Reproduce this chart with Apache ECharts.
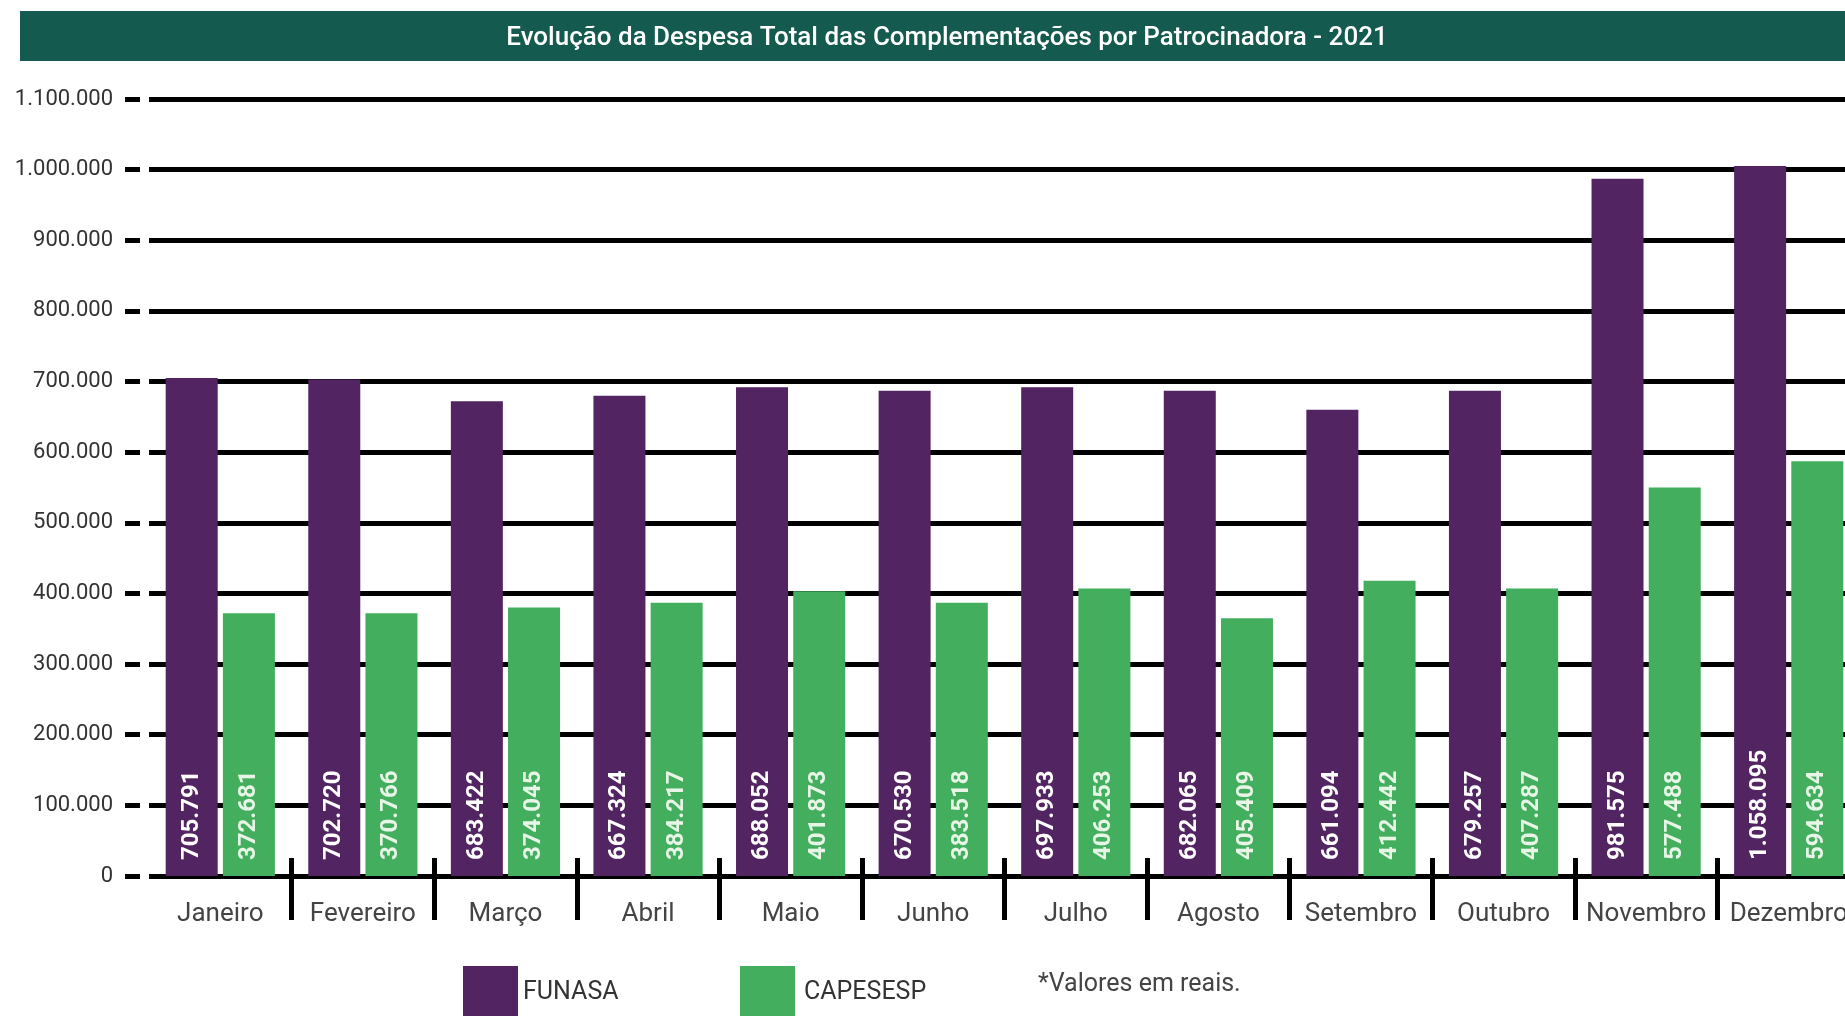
<!DOCTYPE html>
<html>
<head>
<meta charset="utf-8">
<title>Despesa Total das Complementações</title>
<script src="https://cdn.jsdelivr.net/npm/echarts@6/dist/echarts.min.js"></script>
<style>
	html, body { margin: 0; padding: 0; background: #FFFFFF; }
	#Charts { width: 1845px; height: 1016px; }
</style>
</head>
<body>
<div id="Charts"></div>
<script>
// meses (eixo X)
let meses = ['Janeiro', 'Fevereiro', 'Março', 'Abril', 'Maio', 'Junho', 'Julho', 'Agosto', 'Setembro', 'Outubro', 'Novembro', 'Dezembro']

// altura das barras como aparece no gráfico
let funasa = [705000, 703000, 672000, 680000, 692000, 687000, 692000, 687000, 660000, 687000, 987000, 1005000]
let capesesp = [372000, 372000, 380000, 387000, 403000, 387000, 407000, 365000, 418000, 407000, 550000, 587000]

// valores escritos dentro das barras
let funasaTxt = ['705.791', '702.720', '683.422', '667.324', '688.052', '670.530', '697.933', '682.065', '661.094', '679.257', '981.575', '1.058.095']
let capesespTxt = ['372.681', '370.766', '374.045', '384.217', '401.873', '383.518', '406.253', '405.409', '412.442', '407.287', '577.488', '594.634']

// rótulos do eixo Y
let yLabels = ['0', '100.000', '200.000', '300.000', '400.000', '500.000', '600.000', '700.000', '800.000', '900.000', '1.000.000', '1.100.000']

var FONT = 'Roboto'
var ROXO = '#522462'
var VERDE = '#43AE5E'

var chart = echarts.init(document.getElementById('Charts'), null, { renderer: 'canvas' })

function barLabel(txt, cor) {
	return {
		show: true,
		position: 'insideBottom',
		rotate: 90,
		align: 'left',
		verticalAlign: 'middle',
		distance: 16,
		color: cor,
		fontFamily: FONT,
		fontWeight: 'bold',
		fontSize: 24,
		formatter: function(p) { return txt[p.dataIndex] }
	}
}

var option = {
	backgroundColor: '#FFFFFF',
	animation: false,
	title: {
		text: 'Evolução da Despesa Total das Complementações por Patrocinadora - 2021',
		left: 942,
		textAlign: 'center',
		top: 20,
		textStyle: { color: '#FFFFFF', fontFamily: FONT, fontWeight: 500, fontSize: 26 }
	},
	// faixa verde do título + nota
	graphic: [
		{
			type: 'rect', z: -1, silent: true,
			shape: { x: 20, y: 11, width: 1825, height: 50 },
			style: { fill: '#155A4F' }
		},
		{
			type: 'text', left: 1038, top: 972, silent: true,
			style: { text: '*Valores em reais.', fill: '#444444', font: '25px Roboto' }
		}
	],
	legend: [
		{
			data: ['FUNASA'], left: 458, top: 961, icon: 'rect',
			itemWidth: 55, itemHeight: 54, selectedMode: false,
			textStyle: { color: '#333333', fontFamily: FONT, fontSize: 25 }
		},
		{
			data: ['CAPESESP'], left: 735, top: 961, icon: 'rect',
			itemWidth: 55, itemHeight: 54, selectedMode: false,
			textStyle: { color: '#333333', fontFamily: FONT, fontSize: 25, padding: [0, 0, 0, 4] }
		}
	],
	grid: { left: 149, top: 99, width: 1711, height: 777, outerBoundsMode: 'none' },
	xAxis: {
		type: 'category',
		data: meses,
		offset: -18, // sobe o eixo para os traços cruzarem a linha do zero
		axisLine: { show: false, onZero: false },
		axisTick: {
			show: true,
			length: 62,
			interval: function(i) { return i > 0 },
			lineStyle: { color: '#000000', width: 5 }
		},
		axisLabel: { interval: 0, margin: 43, color: '#444444', fontFamily: FONT, fontSize: 26 }
	},
	yAxis: {
		type: 'value',
		min: 0,
		max: 1100000,
		interval: 100000,
		offset: 9,
		axisLine: { show: false },
		axisTick: { show: true, length: 15, lineStyle: { color: '#000000', width: 5 } },
		axisLabel: {
			margin: 27,
			color: '#333333',
			fontFamily: FONT,
			fontSize: 22,
			formatter: function(v) { return yLabels[Math.round(v / 100000)] }
		},
		splitLine: { show: true, lineStyle: { color: '#000000', width: 5 } }
	},
	series: [
		{
			name: 'FUNASA',
			type: 'bar',
			barWidth: 52,
			barGap: '10%',
			itemStyle: { color: ROXO },
			label: barLabel(funasaTxt, '#FFFFFF'),
			data: funasa
		},
		{
			name: 'CAPESESP',
			type: 'bar',
			barWidth: 52,
			barGap: '10%',
			itemStyle: { color: VERDE },
			label: barLabel(capesespTxt, '#E6F5E6'),
			data: capesesp
		}
	]
}

chart.setOption(option)
</script>
</body>
</html>
